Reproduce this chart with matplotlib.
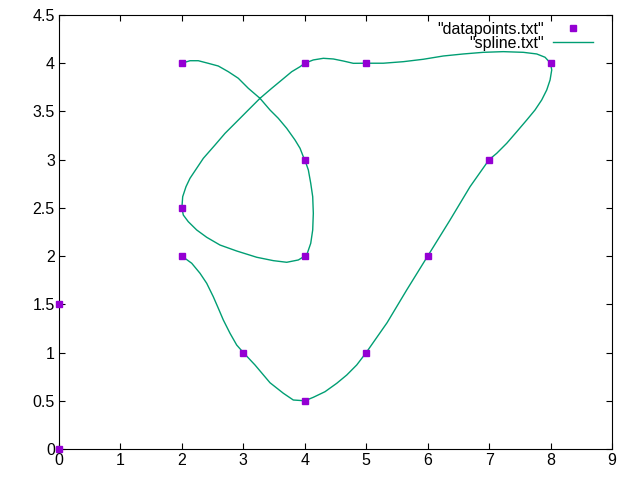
import matplotlib
matplotlib.use("Agg")
import matplotlib.pyplot as plt

plt.rcParams["font.family"] = ["Liberation Sans", "DejaVu Sans"]

# datapoints.txt
pts_x = [0, 0, 2, 3, 4, 5, 6, 7, 8, 5, 4, 2, 4, 4, 2]
pts_y = [0, 1.5, 2, 1, 0.5, 1, 2, 3, 4, 4, 4, 2.5, 3, 2, 4]

# spline.txt
spl_x = [2.000, 2.132, 2.267, 2.430, 2.593, 2.756, 2.918, 3.081, 3.271, 3.434,
         3.569, 3.706, 3.841, 3.923, 3.976, 4.000, 4.058, 4.097, 4.129, 4.139,
         4.129, 4.097, 4.041, 4.000, 3.895, 3.706, 3.488, 3.218, 2.892, 2.620,
         2.404, 2.241, 2.104, 2.023, 2.000, 2.013, 2.067, 2.132, 2.241, 2.349,
         2.539, 2.702, 2.892, 3.081, 3.271, 3.462, 3.625, 3.787, 3.923, 4.000,
         4.139, 4.302, 4.465, 4.627, 4.790, 5.000, 5.278, 5.604, 5.929, 6.255,
         6.580, 6.906, 7.231, 7.557, 7.775, 7.910, 8.000, 8.019, 7.992, 7.938,
         7.856, 7.747, 7.612, 7.450, 7.287, 7.124, 7.000, 6.690, 6.360, 6.000,
         5.660, 5.340, 5.000, 4.845, 4.683, 4.520, 4.329, 4.139, 4.000, 3.813,
         3.651, 3.434, 3.190, 3.000, 2.892, 2.783, 2.674, 2.593, 2.511, 2.404,
         2.295, 2.160, 2.000]
spl_y = [4.000, 4.026, 4.026, 3.999, 3.971, 3.912, 3.844, 3.740, 3.636, 3.515,
         3.429, 3.325, 3.204, 3.118, 3.031, 3.000, 2.893, 2.755, 2.616, 2.444,
         2.271, 2.133, 2.029, 2.000, 1.960, 1.936, 1.953, 1.988, 2.053, 2.115,
         2.195, 2.271, 2.357, 2.426, 2.500, 2.616, 2.720, 2.807, 2.911, 3.014,
         3.152, 3.273, 3.394, 3.515, 3.636, 3.740, 3.826, 3.912, 3.964, 4.000,
         4.034, 4.051, 4.044, 4.023, 3.999, 4.000, 4.000, 4.016, 4.041, 4.075,
         4.096, 4.113, 4.120, 4.113, 4.096, 4.062, 4.000, 3.930, 3.826, 3.723,
         3.619, 3.515, 3.411, 3.290, 3.170, 3.066, 3.000, 2.720, 2.370, 2.000,
         1.650, 1.310, 1.000, 0.871, 0.767, 0.681, 0.594, 0.536, 0.500, 0.508,
         0.578, 0.687, 0.871, 1.000, 1.078, 1.200, 1.338, 1.459, 1.579, 1.718,
         1.822, 1.926, 2.000]

xticks = list(range(10))
yticks = [0, 0.5, 1, 1.5, 2, 2.5, 3, 3.5, 4, 4.5]
ytick_labels = ["0", "0.5", "1", "1.5", "2", "2.5", "3", "3.5", "4", "4.5"]

fig = plt.figure(figsize=(6.4, 4.8), dpi=100)
ax = fig.add_axes([59 / 640, 1 - 449 / 480, (612 - 59) / 640, (449 - 15) / 480])

ax.plot(pts_x, pts_y, linestyle="none", marker="s", markersize=5,
        color="#9400d3", label='"datapoints.txt"', clip_on=False, zorder=3)
ax.plot(spl_x, spl_y, color="#009e73", linewidth=1, label='"spline.txt"')

ax.set_xlim(0, 9)
ax.set_ylim(0, 4.5)
ax.set_xticks(xticks)
ax.set_xticklabels([str(t) for t in xticks])
ax.set_yticks(yticks)
ax.set_yticklabels(ytick_labels)
ax.tick_params(direction="in", top=True, right=True, length=4, width=0.8,
               labelsize=11.5, pad=3)
for s in ax.spines.values():
    s.set_linewidth(0.8)

ax.legend(loc="upper right", bbox_to_anchor=(0.977, 0.9994), frameon=False,
          markerfirst=False, fontsize=11.5, handlelength=2.5,
          handletextpad=0.6, labelspacing=-0.05, borderaxespad=0)

fig.savefig("out.png", dpi=100)
